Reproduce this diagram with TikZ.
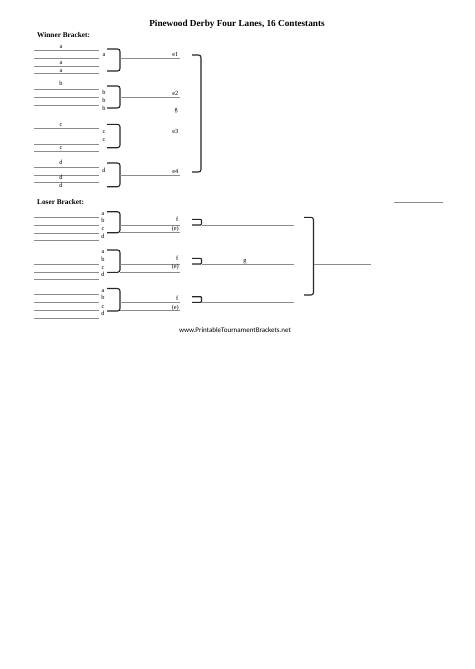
\documentclass[tikz,border=0pt]{standalone}
\usepackage{fontspec}
\setmainfont{Liberation Serif}
\newfontfamily\footfont{Carlito}
\begin{document}
\begin{tikzpicture}[x=1pt,y=-1pt,
  slot/.style={draw=black!45,line width=0.6pt},
  brk/.style={draw=black!85,line width=1.1pt,rounded corners=2.5pt},
  lbl/.style={font=\fontsize{6.3}{7}\selectfont,inner sep=0pt,anchor=base},
  rlbl/.style={lbl,anchor=base east},
  head/.style={font=\fontsize{7.3}{8}\selectfont\bfseries,inner sep=0pt,anchor=west},
  titlestyle/.style={font=\fontsize{9.2}{10}\selectfont\bfseries,inner sep=0pt}]
\useasboundingbox[fill=white] (0,0) rectangle (474,669);

\node[titlestyle] (title) at (237,24) {Pinewood Derby Four Lanes, 16 Contestants};
\node[head] (wb) at (37,35) {Winner Bracket:};
\node[head] (lb) at (37,202) {Loser Bracket:};

% winner slot lines
\foreach \n/\y in {a1/50.5,a2/58,a3/66,a4/73.3,b1/89,b2/97,b3/105,c1/128.3,c2/144,c3/151.3,d1/167.3,d2/175,d3/182.7}{
  \coordinate (w\n-l) at (34,\y);
  \coordinate (w\n-r) at (99,\y);
  \draw[slot] (w\n-l) -- (w\n-r);
}
% labels above slots
\foreach \n/\t/\y in {la1/a/48.2,la3/a/64.2,la4/a/72.2,lb1/b/85.8,lc1/c/126.5,lc3/c/149.2,ld1/d/164.8,ld2/d/179.8,ld3/d/187.5}{
  \node[lbl] (\n) at (61,\y) {\t};
}
% labels right of slots
\foreach \n/\t/\y in {ra/a/56.5,rb1/b/94.2,rb2/b/102.5,rb3/b/110.5,rc1/c/133.5,rc2/c/141.5,rd/d/172.5}{
  \node[lbl] (\n) at (104,\y) {\t};
}

% winner brackets
\foreach \n/\ya/\yb in {a/49/71,b/86/108,c/124.3/147.7,d/163/186.7}{
  \coordinate (bw\n-t) at (107,\ya);
  \coordinate (bw\n-b) at (107,\yb);
  \draw[brk] (bw\n-t) -- ++(13,0) |- (bw\n-b);
}
% winner connectors
\foreach \n/\y in {a/58,b/97,d/175}{
  \coordinate (cw\n-s) at (120,\y);
  \coordinate (cw\n-e) at (180,\y);
  \draw[slot] (cw\n-s) -- (cw\n-e);
}
\node[rlbl] (e1) at (178.5,56.5) {e1};
\node[rlbl] (e2) at (178.5,95.5) {e2};
\node[rlbl] (gw) at (178,111.5) {g};
\node[rlbl] (e3) at (178.5,133.5) {e3};
\node[rlbl] (e4) at (178.5,173.2) {e4};

% big winner bracket
\coordinate (bigw-t) at (192,55);
\coordinate (bigw-b) at (192,172);
\draw[brk] (bigw-t) -- ++(9,0) |- (bigw-b);

% loser slot lines
\foreach \n/\y in {p1/217.7,p2/225,p3/233,p4/240.7,q2/264,q3/272,q4/279.5,s1/294.3,s2/302,s3/310,s4/318.3}{
  \coordinate (l\n-l) at (34,\y);
  \coordinate (l\n-r) at (99,\y);
  \draw[slot] (l\n-l) -- (l\n-r);
}
% loser right labels
\foreach \n/\t/\y in {pa/a/215.8,pb/b/222.2,pc/c/230.5,pd/d/238.2,qa/a/253.2,qb/b/261,qc/c/269.5,qd/d/276.5,sa/a/292.2,sb/b/299.8,sc/c/308.2,sd/d/315.8}{
  \node[lbl] (r\n) at (103,\y) {\t};
}
% loser brackets
\foreach \n/\ya/\yb in {p/211.7/232.7,q/250/272.3,s/288.5/311}{
  \coordinate (bl\n-t) at (107,\ya);
  \coordinate (bl\n-b) at (107,\yb);
  \draw[brk] (bl\n-t) -- ++(13,0) |- (bl\n-b);
}
% loser connectors
\foreach \n/\y in {p1/225,p2/232.7,q1/264.3,q2/272.3,s1/302.5,s2/310.5}{
  \coordinate (cl\n-s) at (120,\y);
  \coordinate (cl\n-e) at (180,\y);
  \draw[slot] (cl\n-s) -- (cl\n-e);
}
\foreach \n/\yf/\ye in {p/221.5/230,q/260.8/268.3,s/300.5/309.3}{
  \node[rlbl] (f\n) at (178.5,\yf) {f};
  \node[rlbl] (e\n) at (179,\ye) {(e)};
}
% small brackets and lines
\foreach \n/\ya/\yb in {p/219.3/225,q/258.3/264,s/296.7/302.3}{
  \coordinate (sb\n-t) at (192,\ya);
  \coordinate (sb\n-b) at (192,\yb);
  \coordinate (sb\n-m) at (201.5,\yb);
  \coordinate (sb\n-e) at (294,\yb);
  \draw[brk,rounded corners=0.8pt] (sb\n-t) -| (sb\n-m) -- (sb\n-b);
  \draw[slot] (sb\n-m) -- (sb\n-e);
}
\node[lbl] (gl) at (245,262.2) {g};

% big loser bracket
\coordinate (bigl-t) at (304,217.3);
\coordinate (bigl-b) at (304,295);
\draw[brk] (bigl-t) -- ++(9.5,0) |- (bigl-b);
\coordinate (out-s) at (313.5,264);
\coordinate (out-e) at (371,264);
\draw[slot] (out-s) -- (out-e);

% lone line at right
\coordinate (solo-s) at (394,202.7);
\coordinate (solo-e) at (443,202.7);
\draw[slot] (solo-s) -- (solo-e);

\node[font=\footfont\fontsize{7}{8}\selectfont,inner sep=0pt] (foot) at (235,330) {www.PrintableTournamentBrackets.net};
\end{tikzpicture}
\end{document}
